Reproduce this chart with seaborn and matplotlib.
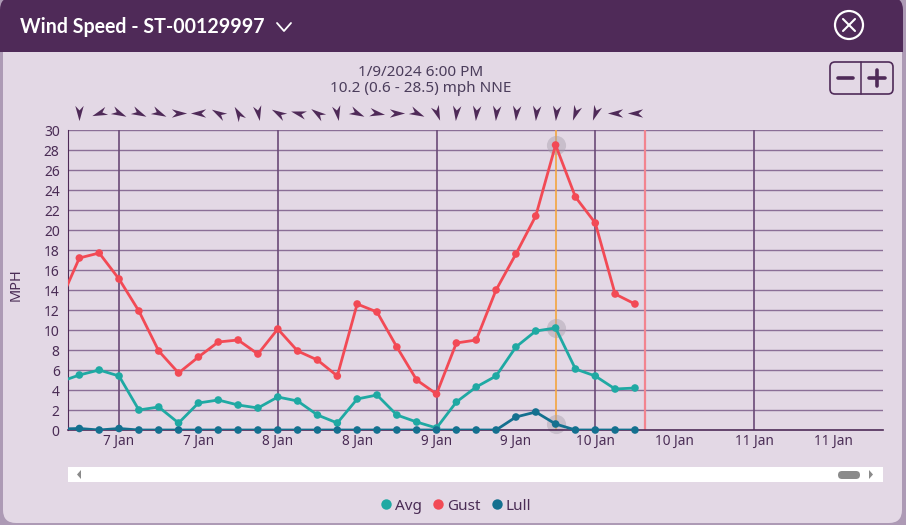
import numpy as np
import pandas as pd
import seaborn as sns
import matplotlib.pyplot as plt
import matplotlib.dates as mdates
from matplotlib.patches import FancyBboxPatch, Rectangle, Circle, Polygon
from matplotlib.lines import Line2D
from matplotlib.markers import MarkerStyle
from matplotlib.path import Path
from matplotlib.transforms import IdentityTransform, Affine2D

# 3-hourly readings, first one sits just left of the visible window
times = pd.date_range("2024-01-06 15:00", "2024-01-10 06:00", freq="3h")
avg = [4.8, 5.5, 6.0, 5.4, 2.0, 2.3, 0.7, 2.7, 3.0, 2.5,
       2.2, 3.3, 2.9, 1.5, 0.7, 3.1, 3.5, 1.5, 0.8, 0.2,
       2.8, 4.3, 5.4, 8.3, 9.9, 10.2, 6.1, 5.4, 4.1, 4.2]
gust = [12.7, 17.2, 17.7, 15.1, 11.9, 7.9, 5.7, 7.3, 8.8, 9.0,
        7.6, 10.1, 7.9, 7.0, 5.4, 12.6, 11.8, 8.3, 5.0, 3.6,
        8.7, 9.0, 14.0, 17.6, 21.4, 28.5, 23.3, 20.7, 13.6, 12.6]
lull = [0.1, 0.15, 0.0, 0.15, 0, 0, 0, 0, 0, 0,
        0, 0, 0, 0, 0, 0, 0, 0, 0, 0,
        0, 0, 0, 1.3, 1.8, 0.6, 0, 0, 0, 0]
# direction the wind arrow points to (deg, ccw from east), from 6 Jan 18:00 on
wind_angle = [270, 200, -25, -25, -25, 0, 180, 150, 120, 280,
              150, 165, 145, 280, -25, -10, 0, -25, 290, 265,
              265, 265, 265, 265, 265, 250, 250, 180, 180]

day_lines = pd.to_datetime(["2024-01-07", "2024-01-08", "2024-01-09", "2024-01-10", "2024-01-11"])
tick_times = pd.date_range("2024-01-07 00:00", "2024-01-11 12:00", freq="12h")
hover_time = pd.Timestamp("2024-01-09 18:00")
now_time = pd.Timestamp("2024-01-10 07:30")
x_left = pd.Timestamp("2024-01-06 16:17")
x_right = pd.Timestamp("2024-01-11 19:30")

colors = {"Avg": "#1fa9a3", "Gust": "#f24a55", "Lull": "#14708f"}
purple = "#4f2a58"
text_c = "#4a2c55"
body_c = "#e3d8e5"

df = pd.DataFrame({"time": list(times) * 3,
                   "mph": avg + gust + lull,
                   "series": ["Avg"] * len(times) + ["Gust"] * len(times) + ["Lull"] * len(times)})

sns.set_style("white")
plt.rcParams["font.family"] = ["Noto Sans", "DejaVu Sans"]

W, H = 906, 525
fig = plt.figure(figsize=(W / 100, H / 100), dpi=100, facecolor="#ad9ab5")
px = IdentityTransform()

def Y(y):
    return H - y

# window body + title bar (kept behind the axes)
def add_patch(p):
    p.set_zorder(-5)
    fig.patches.append(p)

add_patch(FancyBboxPatch((3, Y(523)), 899, 523, boxstyle="round,pad=0,rounding_size=13",
                         transform=px, fc=body_c, ec="none", figure=fig))
add_patch(FancyBboxPatch((0, Y(52)), 903, 55, boxstyle="round,pad=0,rounding_size=13",
                         transform=px, fc=purple, ec="none", figure=fig))
add_patch(Rectangle((0, Y(52)), 903, 20, transform=px, fc=purple, ec="none", figure=fig))
fig.text(20, Y(27), "Wind Speed - ST-00129997", transform=px, color="white", fontsize=14.1,
         fontweight="bold", family=["Lato", "DejaVu Sans"], va="center", ha="left")
fig.lines.append(Line2D([277, 284, 291], [Y(23), Y(31), Y(23)], transform=px, color="white", lw=1.3, figure=fig))
add_patch(Circle((849, Y(25)), 14, transform=px, fc="none", ec="white", lw=1.6, figure=fig))
fig.lines.append(Line2D([843, 855], [Y(19), Y(31)], transform=px, color="white", lw=1.5, figure=fig))
fig.lines.append(Line2D([843, 855], [Y(31), Y(19)], transform=px, color="white", lw=1.5, figure=fig))

# zoom buttons
add_patch(FancyBboxPatch((830, Y(94)), 63, 32, boxstyle="round,pad=0,rounding_size=5",
                         transform=px, fc="none", ec=purple, lw=1.2, figure=fig))
fig.lines.append(Line2D([861, 861], [Y(62), Y(94)], transform=px, color=purple, lw=1.1, figure=fig))
fig.lines.append(Line2D([838, 853], [Y(78), Y(78)], transform=px, color=purple, lw=2.6, figure=fig))
fig.lines.append(Line2D([869, 885], [Y(78), Y(78)], transform=px, color=purple, lw=2.6, figure=fig))
fig.lines.append(Line2D([877, 877], [Y(70), Y(86)], transform=px, color=purple, lw=2.6, figure=fig))

# hover readout
fig.text(421, Y(72), "1/9/2024 6:00 PM", transform=px, color="#4b3d5b", fontsize=11, ha="center", va="center")
fig.text(421, Y(88), "10.2 (0.6 - 28.5) mph NNE", transform=px, color="#4b3d5b", fontsize=11, ha="center", va="center")

# scrollbar
add_patch(Rectangle((68, Y(482)), 815, 15, transform=px, fc="white", ec="none", figure=fig))
add_patch(Polygon([[77, Y(474.5)], [81, Y(470)], [81, Y(479)]], transform=px, fc="#8a8a8a", ec="none", figure=fig))
add_patch(Polygon([[873, Y(474.5)], [869, Y(470)], [869, Y(479)]], transform=px, fc="#8a8a8a", ec="none", figure=fig))
add_patch(FancyBboxPatch((838, Y(479)), 22, 8, boxstyle="round,pad=0,rounding_size=4",
                         transform=px, fc="#8a8a8a", ec="none", figure=fig))

ax = fig.add_axes([68 / W, (H - 430) / H, 815 / W, 300 / H])
ax.set_facecolor(body_c)

for yv in range(2, 31, 2):
    ax.axhline(yv, color="#8b6f97", lw=1, zorder=0)
for d in day_lines:
    ax.axvline(d, color="#6a4a77", lw=1.2, zorder=0.5)
ax.axvline(now_time, color="#f2848f", lw=1.6, zorder=1)
ax.axvline(hover_time, color="#f2a94c", lw=1.3, zorder=1)

sns.lineplot(data=df, x="time", y="mph", hue="series", palette=colors, hue_order=["Avg", "Gust", "Lull"],
             linewidth=2, legend=False, ax=ax, zorder=3)

vis = df[df["time"] >= x_left]
hov = df[df["time"] == hover_time]
ax.scatter(hov["time"], hov["mph"], s=190, color="#a8a0ad", alpha=0.45, lw=0, zorder=2, clip_on=False)
sns.scatterplot(data=vis, x="time", y="mph", hue="series", palette=colors, hue_order=["Avg", "Gust", "Lull"],
                s=30, linewidth=0, legend=False, ax=ax, zorder=4, clip_on=False)

# wind direction arrows above the plot
arrow_path = Path([(1, 0), (-1, 0.55), (-0.4, 0), (-1, -0.55), (1, 0)],
                  [Path.MOVETO, Path.LINETO, Path.LINETO, Path.LINETO, Path.CLOSEPOLY])
for t, a in zip(times[1:], wind_angle):
    m = MarkerStyle(arrow_path, transform=Affine2D().rotate_deg(a))
    ax.plot([t], [1.057], marker=m, markersize=11, color=purple, mew=0,
            transform=ax.get_xaxis_transform(), clip_on=False)

ax.set_xlim(x_left, x_right)
ax.set_ylim(0, 30)
ax.set_yticks(range(0, 31, 2))
ax.set_xticks(tick_times)
ax.xaxis.set_major_formatter(plt.FuncFormatter(lambda v, p: f"{mdates.num2date(v).day} Jan"))
ax.tick_params(axis="y", colors=text_c, labelsize=10, length=4, width=1, pad=2)
ax.tick_params(axis="x", colors=text_c, labelsize=9.8, length=0, pad=3)
ax.set_xlabel("")
ax.set_ylabel("")
sns.despine(ax=ax)
ax.spines["left"].set_color(purple)
ax.spines["bottom"].set_color(purple)
ax.spines["bottom"].set_linewidth(1.2)
ax.spines["bottom"].set_zorder(2.5)

fig.text(16, Y(285), "MPH", transform=px, color=text_c, fontsize=10.5, rotation=90, ha="center", va="center")

handles = [Line2D([], [], marker="o", ls="none", color=colors[k], markersize=7.5, mew=0) for k in colors]
leg = fig.legend(handles, list(colors), loc="center", bbox_to_anchor=(455 / W, (H - 506) / H), ncol=3,
                 frameon=False, handletextpad=0.05, columnspacing=0.6, handlelength=1.0, fontsize=11)
for t in leg.get_texts():
    t.set_color(text_c)

fig.savefig("out.png", dpi=100, facecolor=fig.get_facecolor())
